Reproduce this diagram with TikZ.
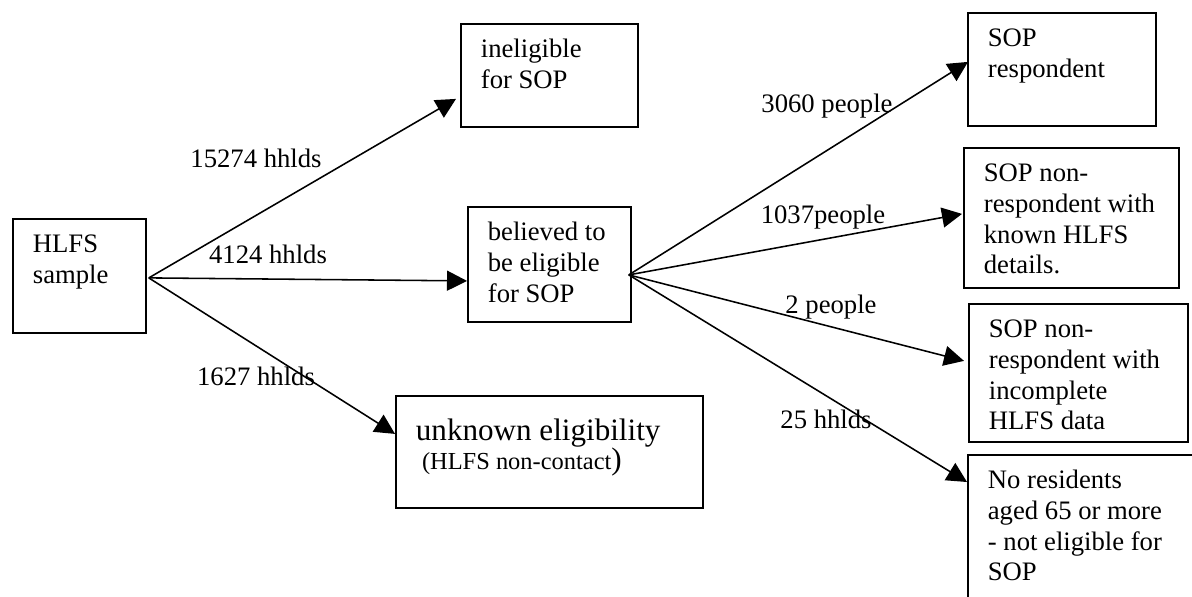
\documentclass[tikz,border=0pt]{standalone}
\usepackage{fontspec}
\setmainfont{Liberation Serif}
\usetikzlibrary{arrows.meta,calc}

\begin{document}
\begin{tikzpicture}[x=0.45pt,y=-0.45pt,font=\fontsize{12}{13.8}\selectfont]
\clip (0,0) rectangle (1192,596);
\begin{scope}[every node/.style={rectangle,draw,line width=0.8pt,anchor=north west,
        align=left,inner xsep=9pt,inner ysep=0pt,text height=15.3pt,
        execute at begin node={\spaceskip=0pt\xspaceskip=0pt}}]
    \node[text width=41.85pt,text depth=36pt] (H) at (12,218) {HLFS\\sample};
    \node[text width=61.65pt,text depth=31.05pt] (I) at (460,23) {ineligible\\for SOP};
    \node[text width=55.35pt,text depth=36.45pt] (B) at (467,206) {believed to\\be eligible\\for SOP};
    \node[text width=120.15pt,text height=20.25pt,text depth=30.15pt,
          font=\fontsize{14}{16.1}\selectfont] (U) at (395,395)
          {unknown eligibility\\[-3.35pt]\hspace*{2.75pt}\fontsize{11}{16.1}\selectfont (HLFS non-contact\fontsize{14}{16.1}\selectfont)};
    \node[text width=66.6pt,text depth=35.55pt] (R) at (967,12) {SOP\\respondent};
    \node[text width=78.75pt,text depth=47.7pt] (K) at (963,147) {SOP non-\\respondent with\\known HLFS\\details.};
    \node[text width=80.55pt,text depth=46.8pt] (C) at (968,303) {SOP non-\\respondent with\\incomplete\\HLFS data};
    \node[text width=92.25pt,text depth=56.7pt] (N) at (967,454) {No residents\\aged 65 or more\\- not eligible for\\SOP};
\end{scope}

\begin{scope}[>={Triangle[length=9pt,width=9pt]},
              every edge/.style={draw,line width=0.7pt}]
    \path [->] ($(H.east)+(2,2)$) edge ($(I.west)+(-4,23.5)$);
    \path [->] ($(H.east)+(2,2)$) edge ($(B.west)+(0,16.5)$);
    \path [->] ($(H.east)+(2,2)$) edge ($(U.west)+(0,-18)$);
    \path [->] ($(B.east)+(-3,10.5)$) edge ($(R.west)+(1,-7.5)$);
    \path [->] ($(B.east)+(-3,10.5)$) edge ($(K.west)+(-1,-4)$);
    \path [->] ($(B.east)+(-3,10.5)$) edge ($(C.west)+(-4,-12)$);
    \path [->] ($(B.east)+(-3,10.5)$) edge ($(N.north west)+(0,28)$);
\end{scope}

\begin{scope}[every node/.style={anchor=base}]
    \node (hh1) at (256,167) {15274 hhlds};
    \node (hh2) at (268,263) {4124 hhlds};
    \node (hh3) at (256,385) {1627 hhlds};
    \node (pp1) at (827,112) {3060 people};
    \node (pp2) at (823,223) {1037people};
    \node (pp3) at (831,313) {2 people};
    \node (hh4) at (826,428) {25 hhlds};
\end{scope}
\end{tikzpicture}
\end{document}
